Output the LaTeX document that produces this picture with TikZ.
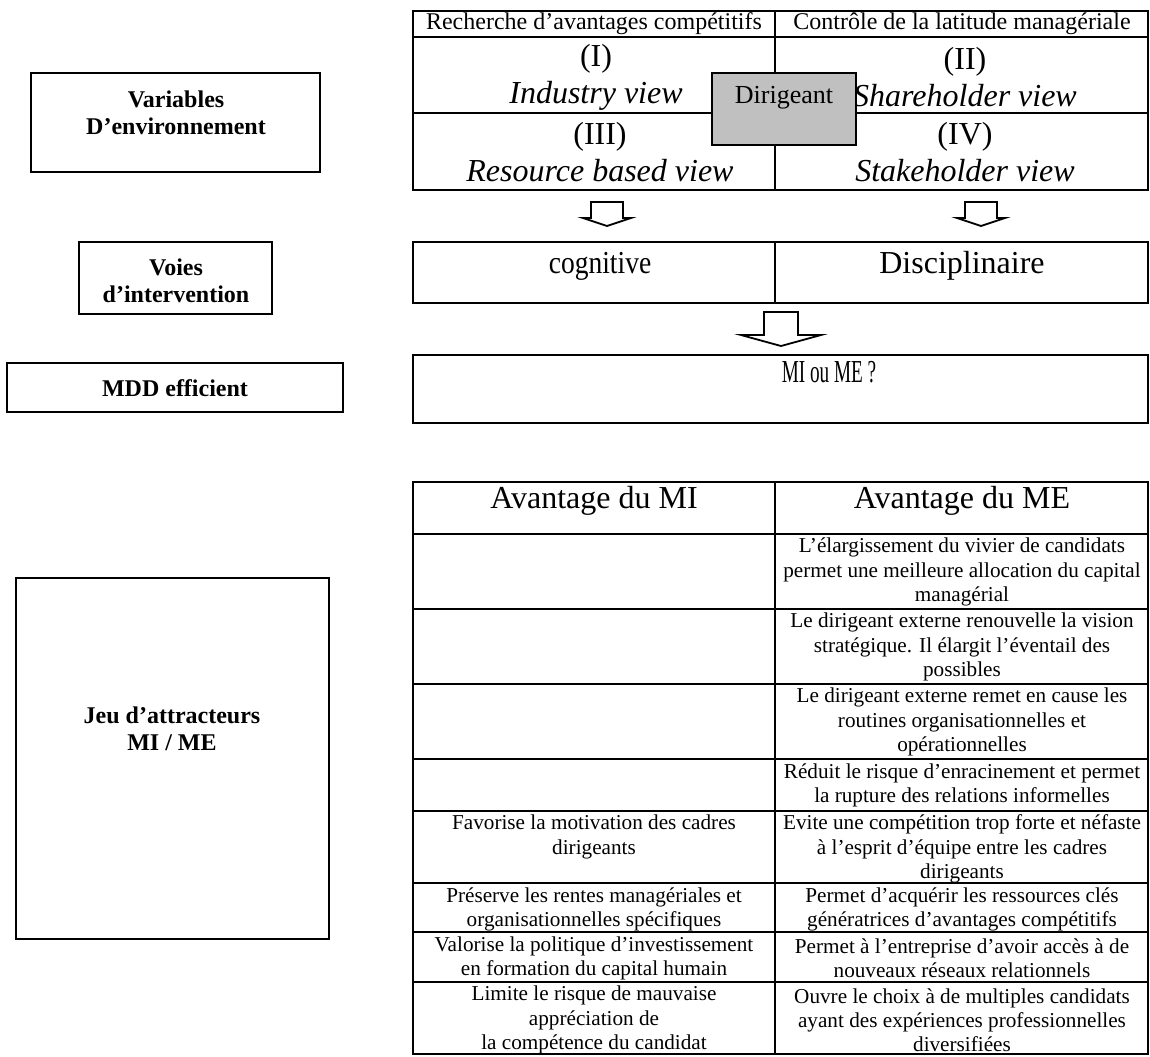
\documentclass[tikz,border=0pt]{standalone}
\usepackage{fontspec}
\setmainfont{Liberation Serif}
\newfontfamily\serre[FakeStretch=0.6]{Liberation Serif}
\newfontfamily\mince[FakeStretch=0.86]{Liberation Serif}
\definecolor{dirgris}{HTML}{C0C0C0}
\begin{document}
\begin{tikzpicture}[x=0.5pt,y=-0.5pt,line width=0.9pt,
  every node/.style={align=center,inner sep=0pt},
  cell/.style={font=\fontsize{10.6}{12.1}\selectfont},
  big/.style={font=\fontsize{16}{18.5}\selectfont},
  hdr/.style={font=\fontsize{12}{14}\selectfont},
  lbl/.style={font=\fontsize{12}{13.7}\selectfont\bfseries},
  box/.style={line width=0.75pt}]
\useasboundingbox (0,0) rectangle (1150,1056);
% left column
\draw[box] (31,73) rectangle (320,172);
\node[lbl] (envt) at (176,113) {Variables\\D’environnement};
\draw[box] (79,242) rectangle (272,314);
\node[lbl] (voies) at (176,281) {Voies\\d’intervention};
\draw[box] (7,363) rectangle (343,412);
\node[lbl] (mdd) at (175,388) {MDD efficient};
\draw[box] (16,578) rectangle (329,939);
\node[lbl] (jeu) at (172,729) {Jeu d’attracteurs\\MI / ME};
% quadrants
\draw (413,11) rectangle (1148,190);
\draw (413,37) -- (1148,37) (413,113) -- (1148,113) (775,11) -- (775,190);
\node[hdr] (rech) at (594,24) {Recherche d’avantages compétitifs};
\node[hdr] (ctrl) at (962,24) {Contrôle de la latitude managériale};
\node[big] (ind) at (596,77) {(I)\\\textit{Industry view}};
\node[big] (share) at (965,77) {(II)\\\textit{Shareholder view}};
\node[big] (res) at (600,152) {(III)\\\textit{Resource based view}};
\node[big] (stake) at (965,152) {(IV)\\\textit{Stakeholder view}};
\draw[fill=dirgris] (712,73) rectangle (856,145);
\node[font=\fontsize{13}{15}\selectfont] (dir) at (784,98) {Dirigeant};
% arrows
\coordinate (flL) at (607,202);
\coordinate (flR) at (981,202);
\coordinate (flM) at (781,312);
\draw (flL) ++(-16,0) -- ++(0,16) -- ++(-8,0) -- ++(24,8) -- ++(24,-8) -- ++(-8,0) -- ++(0,-16) -- cycle;
\draw (flR) ++(-16,0) -- ++(0,16) -- ++(-8,0) -- ++(24,8) -- ++(24,-8) -- ++(-8,0) -- ++(0,-16) -- cycle;
\draw (flM) ++(-17,0) -- ++(0,23) -- ++(-23,0) -- ++(40,11) -- ++(40,-11) -- ++(-23,0) -- ++(0,-23) -- cycle;
% voies
\draw (413,242) rectangle (1148,303);
\draw (775,242) -- (775,303);
\node[font={\mince\fontsize{16}{18.5}\selectfont}] (cogn) at (600,266) {cognitive};
\node[big] (disc) at (962,266) {Disciplinaire};
\draw (413,355) rectangle (1148,423);
\node[font={\serre\fontsize{16}{18.5}\selectfont}] (mime) at (829,372) {MI ou ME ?};
% avantages
\draw (413,482) rectangle (1148,1054);
\draw (775,482) -- (775,1054);
\foreach \y in {534,609,684,759,811,883,932,982}
  \draw (413,\y) -- (1148,\y);
\node[big] (avmi) at (594,501) {Avantage du MI};
\node[big] (avme) at (962,501) {Avantage du ME};
\node[cell] (me1) at (962,572) {L’élargissement du vivier de candidats\\permet une meilleure allocation du capital\\managérial};
\node[cell] (me2) at (962,647) {Le dirigeant externe renouvelle la vision\\stratégique. Il élargit l’éventail des\\possibles};
\node[cell] (me3) at (962,722) {Le dirigeant externe remet en cause les\\routines organisationnelles et\\opérationnelles};
\node[cell] (me4) at (962,785) {Réduit le risque d’enracinement et permet\\la rupture des relations informelles};
\node[cell] (mi5) at (594,837) {Favorise la motivation des cadres\\dirigeants};
\node[cell] (me5) at (962,849) {Evite une compétition trop forte et néfaste\\à l’esprit d’équipe entre les cadres\\dirigeants};
\node[cell] (mi6) at (594,909) {Préserve les rentes managériales et\\organisationnelles spécifiques};
\node[cell] (me6) at (962,909) {Permet d’acquérir les ressources clés\\génératrices d’avantages compétitifs};
\node[cell] (mi7) at (594,958) {Valorise la politique d’investissement\\en formation du capital humain};
\node[cell] (me7) at (962,958) {Permet à l’entreprise d’avoir accès à de\\nouveaux réseaux relationnels};
\node[cell] (mi8) at (594,1020) {Limite le risque de mauvaise\\appréciation de\\la compétence du candidat};
\node[cell] (me8) at (962,1020) {Ouvre le choix à de multiples candidats\\ayant des expériences professionnelles\\diversifiées};
\end{tikzpicture}
\end{document}
